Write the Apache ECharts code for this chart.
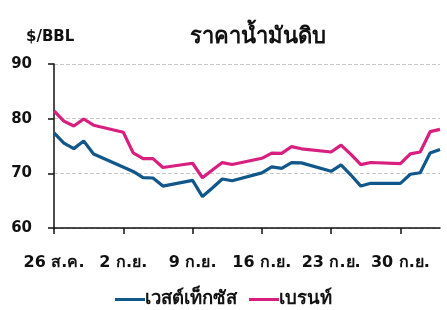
<!DOCTYPE html>
<html>
<head>
<meta charset="utf-8">
<script src="https://cdn.jsdelivr.net/npm/echarts@6/dist/echarts.min.js"></script>
<style>
  html, body { margin: 0; padding: 0; background: #fff; }
  #chart { width: 447px; height: 310px; }
</style>
</head>
<body>
<div id="chart"></div>
<script>
  // trading days (2024, MM-DD)
  const tradeDays = [
    '08-26', '08-27', '08-28', '08-29', '08-30',
    '09-02', '09-03', '09-04', '09-05', '09-06',
    '09-09', '09-10', '09-11', '09-12', '09-13',
    '09-16', '09-17', '09-18', '09-19', '09-20',
    '09-23', '09-24', '09-25', '09-26', '09-27',
    '09-30', '10-01', '10-02', '10-03', '10-04'
  ]
  // เวสต์เท็กซัส (WTI)
  const wti = [
    77.42, 75.53, 74.52, 75.91, 73.55,
    null, 70.34, 69.20, 69.15, 67.67,
    68.71, 65.75, 67.31, 68.97, 68.65,
    70.09, 71.19, 70.91, 71.95, 71.92,
    70.37, 71.56, 69.69, 67.67, 68.18,
    68.17, 69.83, 70.10, 73.71, 74.38
  ]
  // เบรนท์ (Brent)
  const brent = [
    81.43, 79.55, 78.65, 79.94, 78.80,
    77.52, 73.75, 72.70, 72.69, 71.06,
    71.84, 69.19, 70.61, 71.97, 71.61,
    72.75, 73.70, 73.65, 74.88, 74.49,
    73.90, 75.17, 73.46, 71.60, 71.98,
    71.77, 73.56, 73.90, 77.62, 78.05
  ]
  // x axis tick labels (every Monday)
  const tickLabels = ['26 ส.ค.', '2 ก.ย.', '9 ก.ย.', '16 ก.ย.', '23 ก.ย.', '30 ก.ย.']

  const FONT = '"DejaVu Sans", "Noto Sans", sans-serif'

  // calendar days so weekends keep their spacing
  const calDays = []
  const start = Date.UTC(2024, 7, 26)
  const end = Date.UTC(2024, 9, 4)
  for (let t = start; t <= end; t += 86400000) {
    const d = new Date(t)
    const mm = String(d.getUTCMonth() + 1).padStart(2, '0')
    const dd = String(d.getUTCDate()).padStart(2, '0')
    calDays.push(mm + '-' + dd)
  }
  function toCal(values) {
    return calDays.map(day => {
      const i = tradeDays.indexOf(day)
      return i < 0 ? null : values[i]
    })
  }

  const chart = echarts.init(document.getElementById('chart'))
  chart.setOption({
    animation: false,
    title: [
      {
        text: 'ราคาน้ำมันดิบ',
        left: 253,
        top: 21,
        textAlign: 'center',
        textStyle: { fontFamily: FONT, fontSize: 22, fontWeight: 'bold', color: '#111' }
      },
      {
        text: '$/BBL',
        left: 21,
        top: 25,
        textStyle: { fontFamily: FONT, fontSize: 15, fontWeight: 'bold', color: '#111' }
      }
    ],
    legend: {
      bottom: -4,
      left: 'center',
      icon: 'rect',
      itemWidth: 30,
      itemHeight: 3,
      itemGap: 12,
      textStyle: { fontFamily: FONT, fontSize: 18.5, fontWeight: 'bold', color: '#111', padding: [0, 0, 0, -5] },
      data: ['เวสต์เท็กซัส', 'เบรนท์']
    },
    grid: {
      left: 54,
      right: 7,
      top: 64,
      bottom: 82
    },
    xAxis: {
      type: 'category',
      boundaryGap: false,
      data: calDays,
      axisLine: { lineStyle: { color: '#111', width: 1.5 } },
      axisTick: { show: true, interval: 6, length: 6, lineStyle: { color: '#111', width: 1.5 } },
      axisLabel: {
        interval: 6,
        margin: 27,
        fontFamily: FONT,
        fontSize: 16,
        fontWeight: 'bold',
        color: '#111',
        formatter: (v, i) => (i % 7 === 0 ? tickLabels[i / 7] || '' : '')
      }
    },
    yAxis: {
      type: 'value',
      min: 60,
      max: 90,
      interval: 10,
      axisLine: { show: true, lineStyle: { color: '#111', width: 1.5 } },
      axisTick: { show: true, length: 6, lineStyle: { color: '#111', width: 1.5 } },
      axisLabel: { margin: 22, fontFamily: FONT, fontSize: 15, fontWeight: 'bold', color: '#111' },
      splitLine: { show: true, lineStyle: { color: '#c8c8c8', type: 'dashed', width: 1 } }
    },
    series: [
      {
        name: 'เวสต์เท็กซัส',
        type: 'line',
        data: toCal(wti),
        connectNulls: true,
        showSymbol: false,
        color: '#11578a',
        lineStyle: { width: 3.2, color: '#11578a' }
      },
      {
        name: 'เบรนท์',
        type: 'line',
        data: toCal(brent),
        connectNulls: true,
        showSymbol: false,
        color: '#d81f80',
        lineStyle: { width: 3.2, color: '#d81f80' }
      }
    ]
  })
</script>
</body>
</html>
